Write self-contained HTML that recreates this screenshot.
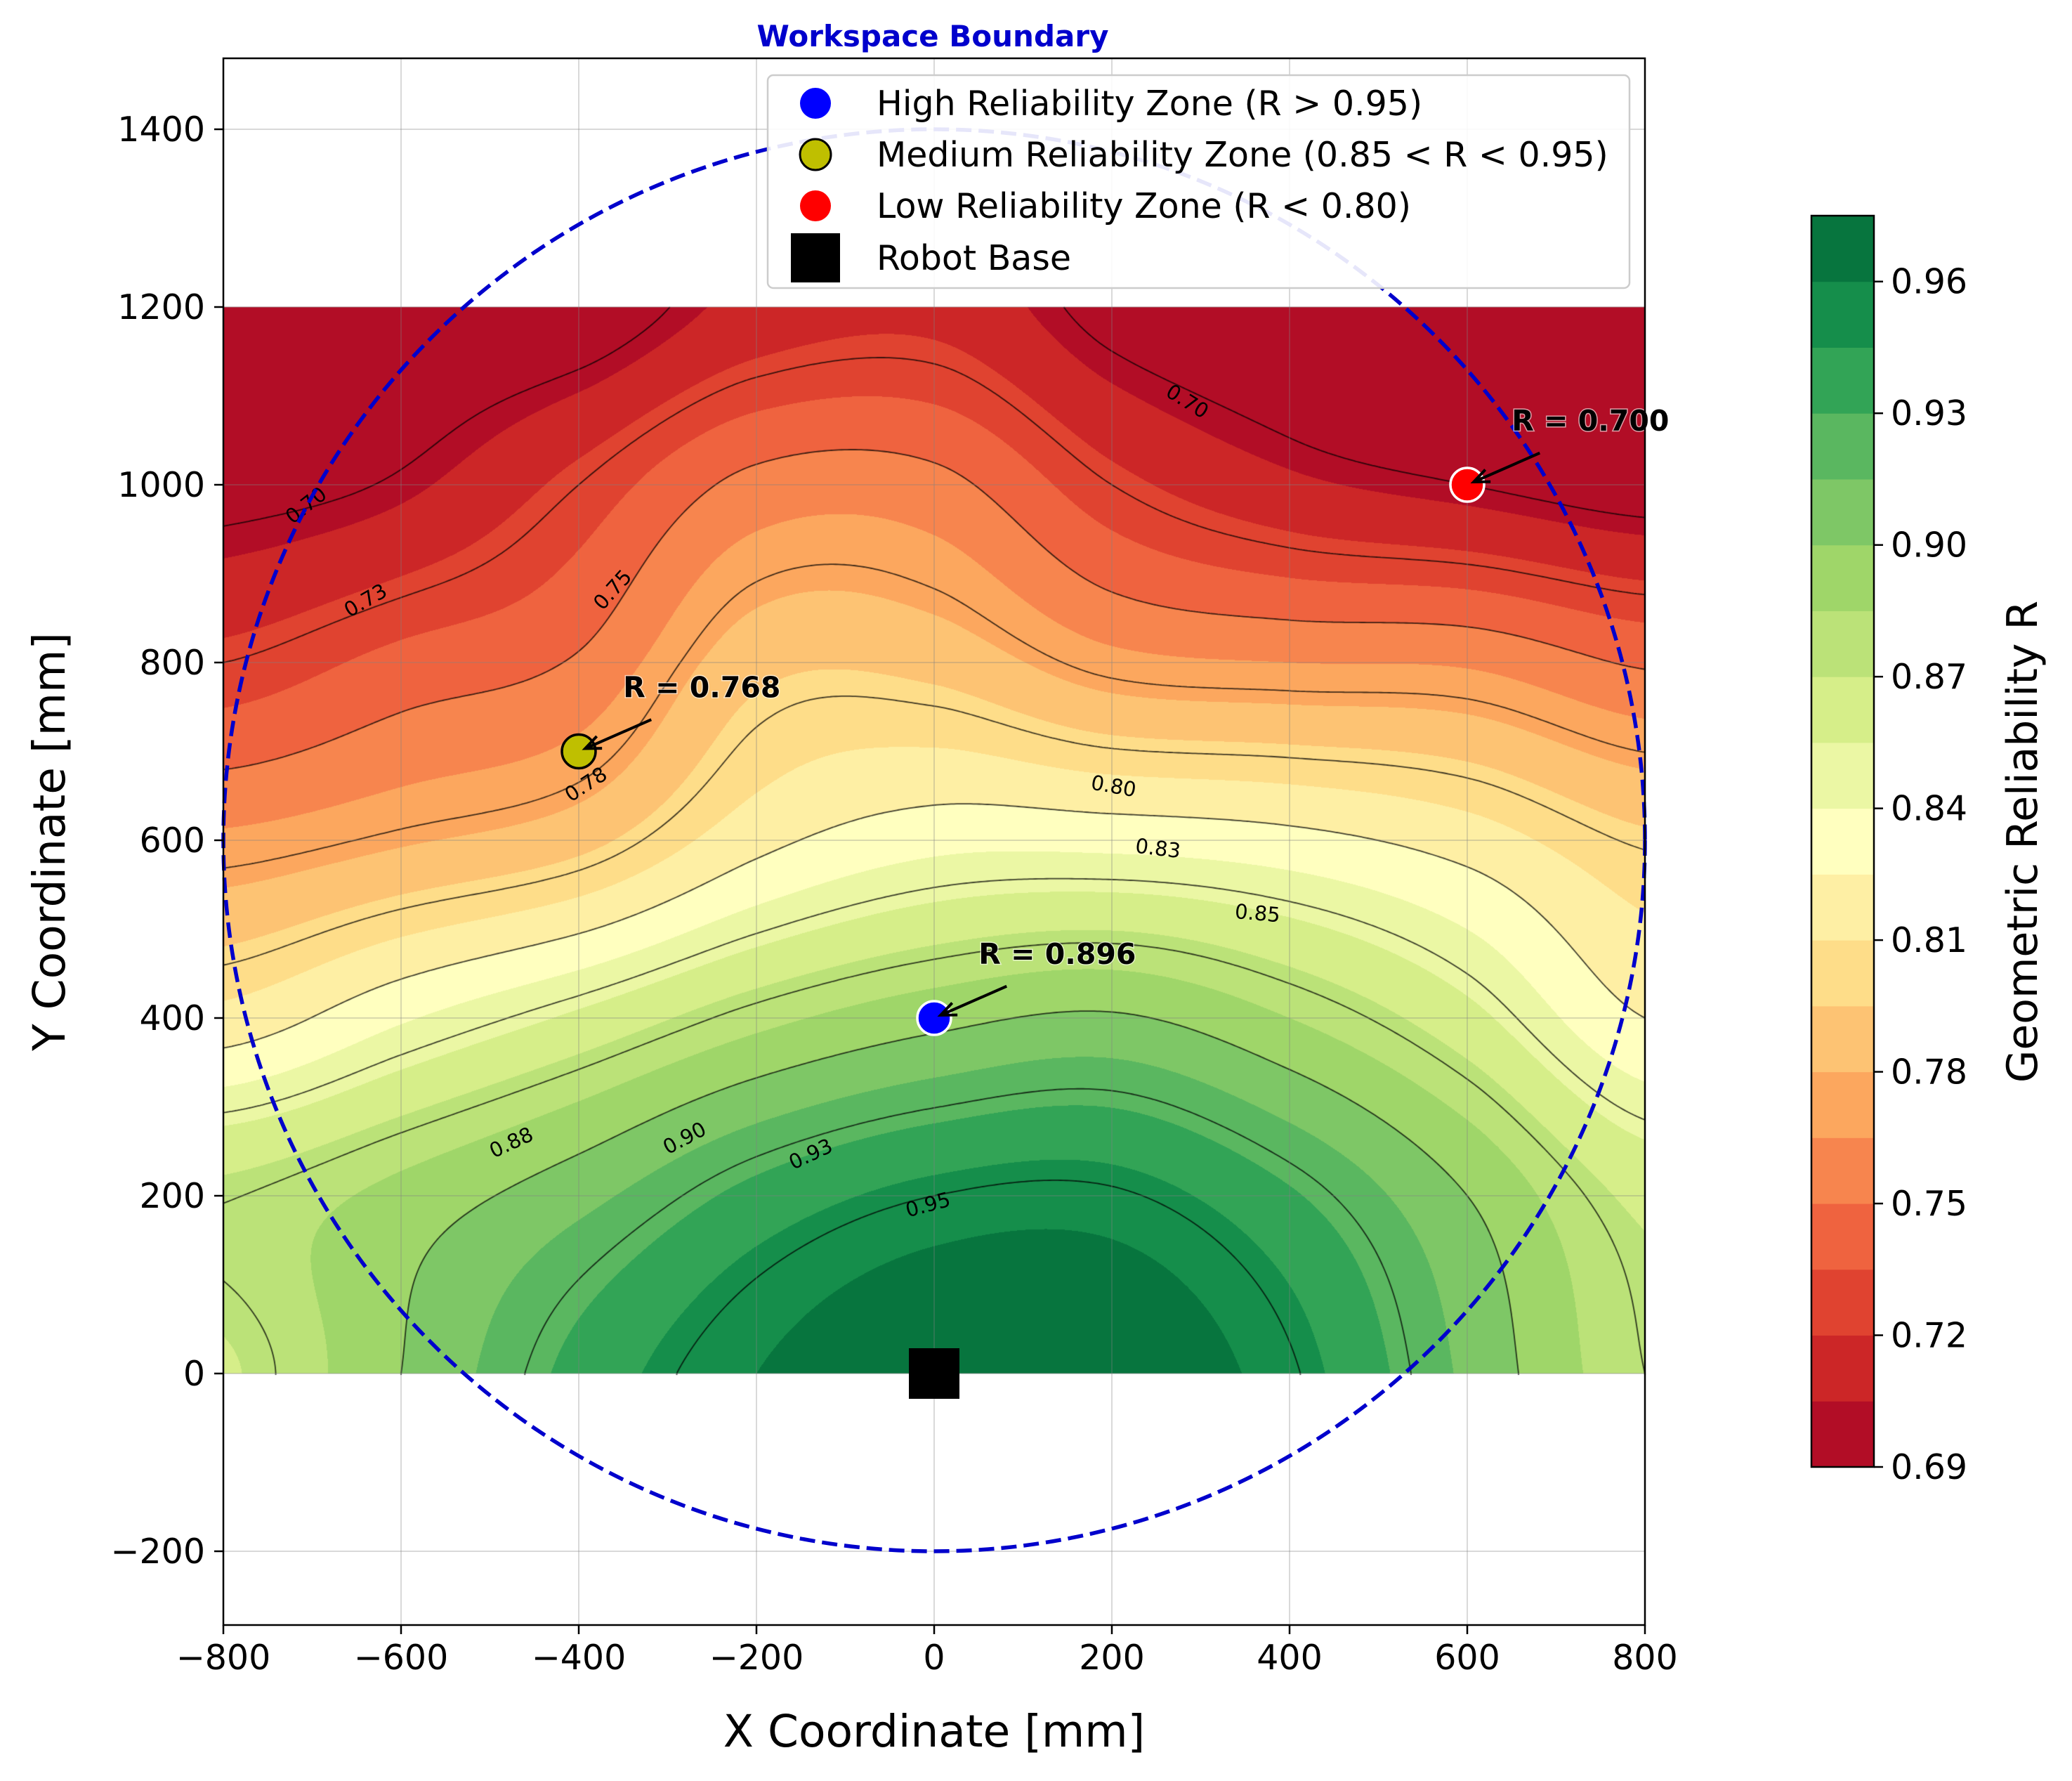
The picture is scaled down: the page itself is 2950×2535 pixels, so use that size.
<!DOCTYPE html>
<html><head><meta charset="utf-8">
<style>
html,body{margin:0;padding:0;background:#fff;}
#wrap{position:relative;width:2950px;height:2535px;overflow:hidden;font-family:"DejaVu Sans","Liberation Sans",sans-serif;}
canvas,svg{position:absolute;left:0;top:0;}
</style></head>
<body>
<div id="wrap">
<canvas id="field" width="2950" height="2535"></canvas>
<svg id="svg" width="2950" height="2535" xmlns="http://www.w3.org/2000/svg"></svg>
</div>
<script>
// ---- data ----
const gridX = [-800,-600,-400,-200,0,200,400,600,800];
const gridY = [0,200,400,600,800,1000,1200];
const gridR0 = [0.868,0.900,0.935,0.960,0.975,0.975,0.952,0.912,0.875];
const gridR1 = [0.874,0.890,0.910,0.935,0.950,0.952,0.932,0.900,0.866];
const gridR2 = [0.815,0.838,0.858,0.880,0.895,0.902,0.885,0.860,0.825];
const gridR3 = [0.768,0.778,0.790,0.820,0.835,0.835,0.830,0.818,0.798];
const gridR4 = [0.725,0.740,0.752,0.790,0.790,0.770,0.765,0.763,0.748];
const gridR5 = [0.695,0.702,0.725,0.755,0.755,0.725,0.708,0.700,0.693];
const gridR6 = [0.690,0.690,0.690,0.710,0.715,0.695,0.690,0.690,0.690];
const fillLevelStart = 0.69, fillLevelStep = 0.015, fillLevelCount = 19;
const lineLevels = [0.70,0.725,0.75,0.775,0.80,0.825,0.85,0.875,0.90,0.925,0.95];
const xTicks = [-800,-600,-400,-200,0,200,400,600,800];
const yTicks = [-200,0,200,400,600,800,1000,1200,1400];
const cbTicks = [0.69,0.72,0.75,0.78,0.81,0.84,0.87,0.90,0.93,0.96];
const pointNames = ["high","medium","low"];
const pointX = [0,-400,600];
const pointY = [400,700,1000];
const pointR = [0.896,0.768,0.700];
const pointColor = ["#0000ff","#bfbf00","#ff0000"];
const pointEdge = ["#ffffff","#000000","#ffffff"];
const labelText = ["0.70","0.73","0.75","0.78","0.70","0.80","0.83","0.85","0.88","0.90","0.93","0.95"];
const labelX = [-707,-640,-362,-392,285,202,252,364,-476,-281,-139,-7];
const labelY = [977,870,882,663,1094,661,591,518,260,265,247,190];
const labelRot = [-38,-30,-48,-33,32,10,7,5,-25,-28,-25,-15];
const gridR = [gridR0,gridR1,gridR2,gridR3,gridR4,gridR5,gridR6];

// ---- scales ----
const PX0=318, PX1=2342, S=1.265, Y0PIX=1955;
function px(x){return PX0+(x+800)*S;}
function py(y){return Y0PIX-y*S;}

const cmapStops=["#a50026","#d73027","#f46d43","#fdae61","#fee08b","#ffffbf","#d9ef8b","#a6d96a","#66bd63","#1a9850","#006837"];
function hex(h){return [parseInt(h.substr(1,2),16),parseInt(h.substr(3,2),16),parseInt(h.substr(5,2),16)];}
function cmap(t){t=Math.max(0,Math.min(1,t));const f=t*10,i=Math.min(9,Math.floor(f)),r=f-i;const a=hex(cmapStops[i]),b=hex(cmapStops[i+1]);return [0,1,2].map(k=>Math.round(a[k]+(b[k]-a[k])*r));}
const vmax=fillLevelStart+fillLevelStep*fillLevelCount;
function bandColor(k){const mid=fillLevelStart+fillLevelStep*(k+0.5);return cmap((mid-fillLevelStart)/(vmax-fillLevelStart));}

function cr(p0,p1,p2,p3,t){return 0.5*((2*p1)+(-p0+p2)*t+(2*p0-5*p1+4*p2-p3)*t*t+(-p0+3*p1-3*p2+p3)*t*t*t);}
function G(j,i){j=Math.max(0,Math.min(gridY.length-1,j));i=Math.max(0,Math.min(gridX.length-1,i));return gridR[j][i];}
function R(x,y){
  const fx=(x-gridX[0])/(gridX[1]-gridX[0]), fy=(y-gridY[0])/(gridY[1]-gridY[0]);
  let i=Math.min(gridX.length-2,Math.max(0,Math.floor(fx))), j=Math.min(gridY.length-2,Math.max(0,Math.floor(fy)));
  const tx=fx-i, ty=fy-j, rows=[];
  for(let d=-1;d<=2;d++){rows.push(cr(G(j+d,i-1),G(j+d,i),G(j+d,i+1),G(j+d,i+2),tx));}
  return cr(rows[0],rows[1],rows[2],rows[3],ty);
}

// ---- draw field ----
const cv=document.getElementById('field'), ctx=cv.getContext('2d');
const xa=Math.round(px(-800)), xb=Math.round(px(800)), ya=Math.round(py(1200)), yb=Math.round(py(0));
const W=xb-xa, H=yb-ya;
const img=ctx.createImageData(W,H);
for(let yy=0;yy<H;yy++){
  const dy=(Y0PIX-(ya+yy+0.5))/S;
  for(let xx=0;xx<W;xx++){
    const dx=(xa+xx+0.5-PX0)/S-800;
    const v=R(dx,dy);
    let k=Math.floor((v-fillLevelStart)/fillLevelStep);k=Math.max(0,Math.min(fillLevelCount-1,k));
    const c=bandColor(k), o=(yy*W+xx)*4;
    img.data[o]=c[0];img.data[o+1]=c[1];img.data[o+2]=c[2];img.data[o+3]=255;
  }
}
ctx.putImageData(img,xa,ya);

const step=4, nx=Math.ceil(W/step)+1, ny=Math.ceil(H/step)+1, vals=[];
for(let j=0;j<ny;j++){vals.push([]);for(let i=0;i<nx;i++){const X=Math.min(xa+i*step,xb),Y=Math.min(ya+j*step,yb);vals[j].push(R((X-PX0)/S-800,(Y0PIX-Y)/S));}}
ctx.strokeStyle='rgba(0,0,0,0.75)';ctx.lineWidth=1.8;
lineLevels.forEach(L=>{
  ctx.beginPath();
  for(let j=0;j<ny-1;j++)for(let i=0;i<nx-1;i++){
    const X0=xa+i*step,Y0=ya+j*step;
    const c=[[vals[j][i],X0,Y0],[vals[j][i+1],X0+step,Y0],[vals[j+1][i+1],X0+step,Y0+step],[vals[j+1][i],X0,Y0+step]];
    const pts=[];
    for(let e=0;e<4;e++){const a=c[e],b=c[(e+1)%4];if((a[0]-L)*(b[0]-L)<0){const t=(L-a[0])/(b[0]-a[0]);pts.push([a[1]+(b[1]-a[1])*t,a[2]+(b[2]-a[2])*t]);}}
    for(let p=0;p+1<pts.length;p+=2){ctx.moveTo(Math.min(pts[p][0],xb),pts[p][1]);ctx.lineTo(Math.min(pts[p+1][0],xb),pts[p+1][1]);}
  }
  ctx.stroke();
});

// ---- SVG overlay ----
const NS='http://www.w3.org/2000/svg', svg=document.getElementById('svg');
function el(tag,attrs,parent){const e=document.createElementNS(NS,tag);for(const k in attrs)e.setAttribute(k,attrs[k]);(parent||svg).appendChild(e);return e;}
const FF='"DejaVu Sans","Liberation Sans",sans-serif';

const gGrid=el('g',{});


xTicks.forEach(t=>{el('line',{x1:px(t),x2:px(t),y1:83,y2:2313,stroke:'rgba(128,128,128,0.3)','stroke-width':2},gGrid);});
yTicks.forEach(t=>{el('line',{x1:318,x2:2342,y1:py(t),y2:py(t),stroke:'rgba(128,128,128,0.3)','stroke-width':2},gGrid);});

labelText.forEach((s,i)=>{
  const t=el('text',{x:px(labelX[i]),y:py(labelY[i]),'font-size':29,'font-family':FF,'text-anchor':'middle','dominant-baseline':'central',fill:'#000',transform:`rotate(${labelRot[i]} ${px(labelX[i])} ${py(labelY[i])})`});
  t.textContent=s;
  
  
});

const circ=el('circle',{cx:px(0),cy:py(600),r:800*S,fill:'none',stroke:'#0000cc','stroke-width':5.5,'stroke-dasharray':'22 10'});



const base=el('rect',{x:px(0)-36,y:py(0)-36,width:72,height:72,fill:'#000'});



const annDX=[50,50,50], annDY=[50,50,50];
pointX.forEach((x,i)=>{
  const c=el('circle',{cx:px(x),cy:py(pointY[i]),r:24,fill:pointColor[i],stroke:pointEdge[i],'stroke-width':3.5});
  
  
  const tx=px(x+annDX[i]), ty=py(pointY[i]+annDY[i]);
  const ax=tx+40, ay=ty+18;
  const ang=Math.atan2(py(pointY[i])-ay,px(x)-ax);
  const ex=px(x)+Math.cos(ang+Math.PI)*10, ey=py(pointY[i])+Math.sin(ang+Math.PI)*10;
  const ln=el('line',{x1:ax,y1:ay,x2:ex,y2:ey,stroke:'#000','stroke-width':4});
  
  
  const h1=ang+Math.PI-0.4,h2=ang+Math.PI+0.4;
  const hd=el('polyline',{points:`${ex+Math.cos(h1)*24},${ey+Math.sin(h1)*24} ${ex},${ey} ${ex+Math.cos(h2)*24},${ey+Math.sin(h2)*24}`,fill:'none',stroke:'#000','stroke-width':4});
  
  
  const t=el('text',{x:tx,y:ty-14,'font-size':41,'font-weight':'bold','font-family':FF,fill:'#000',stroke:'rgba(255,255,255,0.6)','stroke-width':3,'paint-order':'stroke'});
  t.textContent='R = '+pointR[i].toFixed(3);
  
  
});

const frame=el('rect',{x:318,y:83,width:2024,height:2230,fill:'none',stroke:'#000','stroke-width':2.5});



xTicks.forEach(t=>{
  el('line',{x1:px(t),x2:px(t),y1:2313,y2:2326,stroke:'#000','stroke-width':2.5});
  const tx=el('text',{x:px(t),y:2376,'font-size':49,'font-family':FF,'text-anchor':'middle',fill:'#000'});
  tx.textContent=(t<0?'\u2212':'')+Math.abs(t);
  
  
});
yTicks.forEach(t=>{
  el('line',{x1:305,x2:318,y1:py(t),y2:py(t),stroke:'#000','stroke-width':2.5});
  const tx=el('text',{x:292,y:py(t)+17,'font-size':49,'font-family':FF,'text-anchor':'end',fill:'#000'});
  tx.textContent=(t<0?'\u2212':'')+Math.abs(t);
  
  
});

const xt=el('text',{x:1330,y:2486,'font-size':63,'font-family':FF,'text-anchor':'middle',fill:'#000'});
xt.textContent='X Coordinate [mm]';


const yt=el('text',{x:0,y:0,'font-size':63,'font-family':FF,'text-anchor':'middle',fill:'#000',transform:'translate(92,1198) rotate(-90)'});
yt.textContent='Y Coordinate [mm]';


const tt=el('text',{x:1328,y:66,'font-size':42,'font-weight':'bold','font-family':FF,'text-anchor':'middle',fill:'#0000cc'});
tt.textContent='Workspace Boundary';



const lg=el('g',{});


el('rect',{x:1093,y:107,width:1227,height:303,rx:8,fill:'rgba(255,255,255,0.9)',stroke:'#cccccc','stroke-width':2.5},lg);
const legText=['High Reliability Zone (R > 0.95)','Medium Reliability Zone (0.85 < R < 0.95)','Low Reliability Zone (R < 0.80)','Robot Base'];
const legY=[147,220,293,367];
legText.forEach((s,i)=>{
  let m;
  if(i<3)m=el('circle',{cx:1161,cy:legY[i],r:22,fill:pointColor[i],stroke:pointEdge[i]==='#ffffff'?'none':'#000','stroke-width':3},lg);
  else m=el('rect',{x:1126,y:legY[i]-35,width:70,height:70,fill:'#000'},lg);
  
  
  const t=el('text',{x:1248,y:legY[i]+17,'font-size':49,'font-family':FF,fill:'#000'},lg);
  t.textContent=s;
  
  
});

const CB_X=2579, CB_W=89, CB_T=307, CB_B=2088;
function cby(v){return CB_B-(v-fillLevelStart)/(vmax-fillLevelStart)*(CB_B-CB_T);}
const cb=el('g',{});


for(let k=0;k<fillLevelCount;k++){
  const c=bandColor(k);
  const r=el('rect',{x:CB_X,y:cby(fillLevelStart+(k+1)*fillLevelStep),width:CB_W,height:cby(fillLevelStart+k*fillLevelStep)-cby(fillLevelStart+(k+1)*fillLevelStep)+0.5,fill:`rgb(${c[0]},${c[1]},${c[2]})`},cb);
  
  
}
el('rect',{x:CB_X,y:CB_T,width:CB_W,height:CB_B-CB_T,fill:'none',stroke:'#000','stroke-width':2.5},cb);
cbTicks.forEach(v=>{
  el('line',{x1:CB_X+CB_W,x2:CB_X+CB_W+13,y1:cby(v),y2:cby(v),stroke:'#000','stroke-width':2.5},cb);
  const t=el('text',{x:2692,y:cby(v)+17,'font-size':49,'font-family':FF,fill:'#000'},cb);
  t.textContent=v.toFixed(2);
  
  
});
const cbl=el('text',{x:0,y:0,'font-size':60,'font-family':FF,'text-anchor':'middle',fill:'#000',transform:'translate(2900,1198) rotate(-90)'});
cbl.textContent='Geometric Reliability R';


</script>
</body></html>
